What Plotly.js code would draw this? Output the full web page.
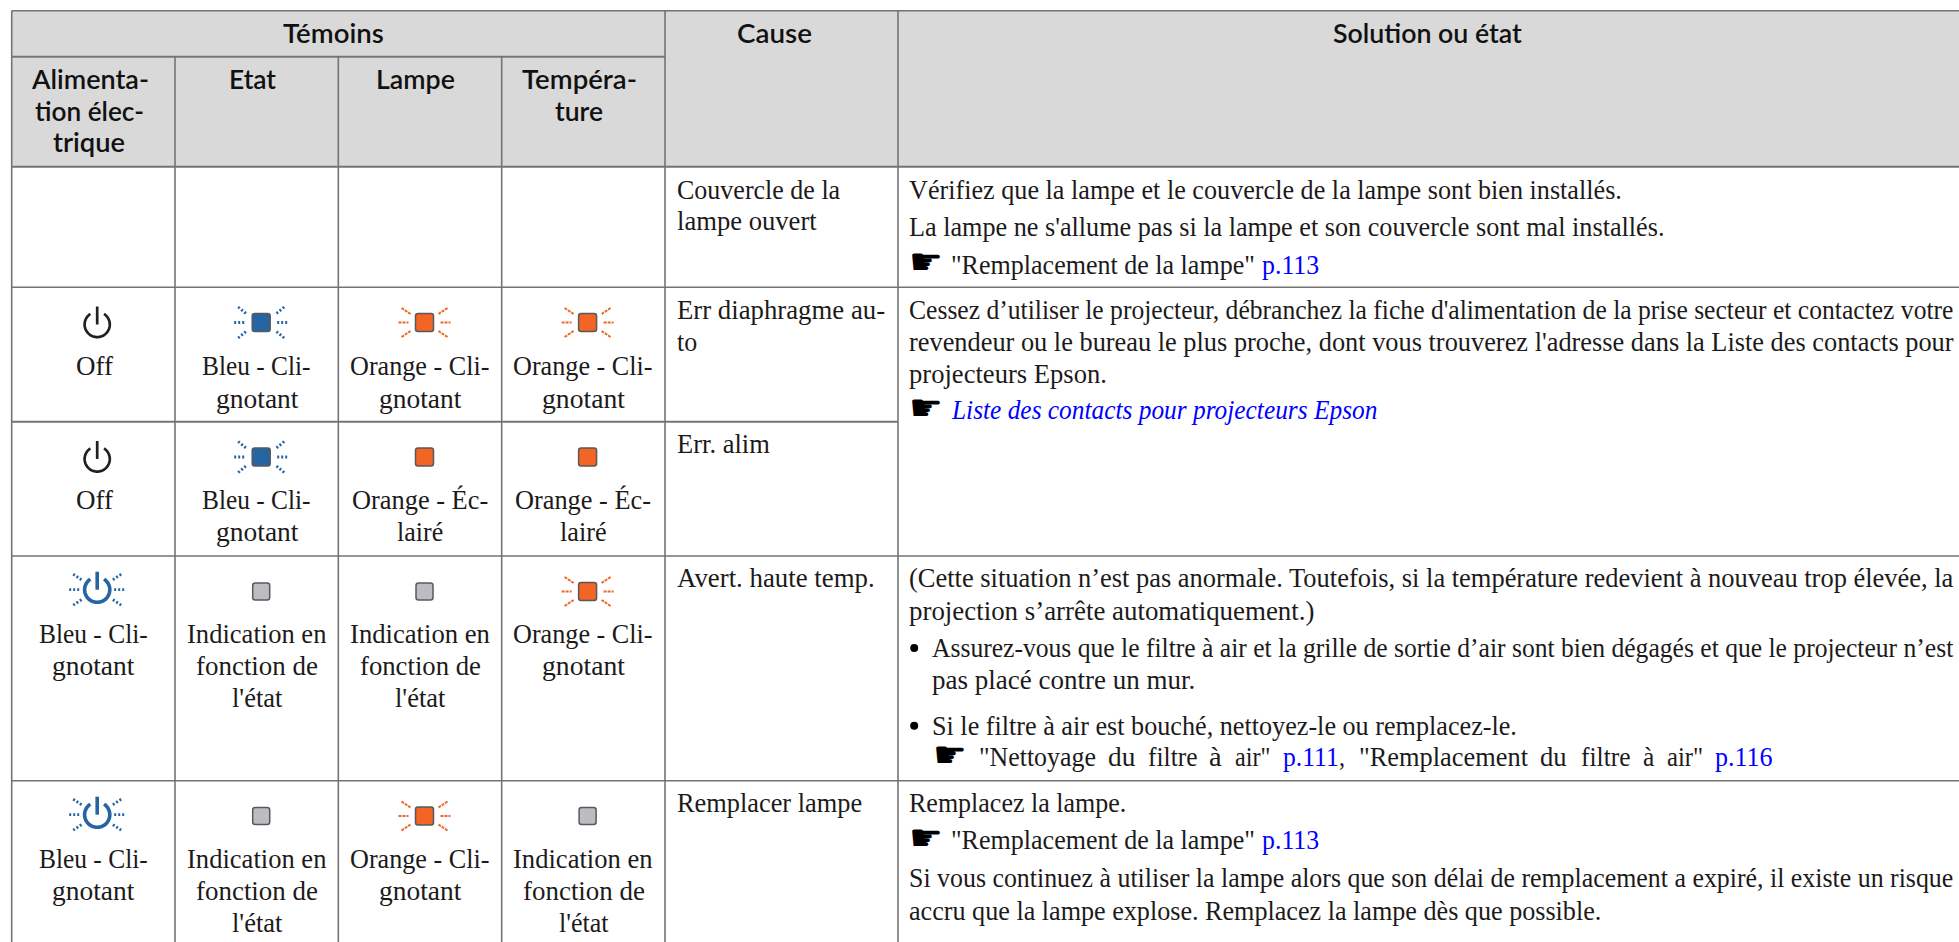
<!DOCTYPE html>
<html><head><meta charset="utf-8">
<script src="https://cdn.plot.ly/plotly-3.0.1.min.js"></script>
<style>html,body{margin:0;padding:0;background:#fff;overflow:hidden}
.annotation text{font-variant-ligatures:none}</style>
</head><body><div id="chart" style="width:1959px;height:942px"></div>
<script>
// ---- table text ----
const headTop = ['Témoins', 'Cause', 'Solution ou état'];
const headPower = ['Alimenta-', 'tion élec-', 'trique'];
const headState = ['Etat'];
const headLamp = ['Lampe'];
const headTemp = ['Tempéra-', 'ture'];
const off = ['Off'];
const blueBlink = ['Bleu - Cli-', 'gnotant'];
const orangeBlink = ['Orange - Cli-', 'gnotant'];
const orangeLit = ['Orange - Éc-', 'lairé'];
const dependsState = ['Indication en', 'fonction de', "l'état"];
const causeCover = ['Couvercle de la', 'lampe ouvert'];
const causeIris = ['Err diaphragme au-', 'to'];
const causePower = ['Err. alim'];
const causeHot = ['Avert. haute temp.'];
const causeLamp = ['Remplacer lampe'];
const solCover = ['Vérifiez que la lampe et le couvercle de la lampe sont bien installés.',
  "La lampe ne s'allume pas si la lampe et son couvercle sont mal installés."];
const refLamp = ['"Remplacement de la lampe"', 'p.113'];
const solIris = ["Cessez d’utiliser le projecteur, débranchez la fiche d'alimentation de la prise secteur et contactez votre",
  "revendeur ou le bureau le plus proche, dont vous trouverez l'adresse dans la Liste des contacts pour",
  'projecteurs Epson.'];
const refContacts = ['Liste des contacts pour projecteurs Epson'];
const solHot = ['(Cette situation n’est pas anormale. Toutefois, si la température redevient à nouveau trop élevée, la',
  'projection s’arrête automatiquement.)'];
const bullet1 = ['Assurez-vous que le filtre à air et la grille de sortie d’air sont bien dégagés et que le projecteur n’est', 'pas placé contre un mur.'];
const bullet2 = ['Si le filtre à air est bouché, nettoyez-le ou remplacez-le.'];
const refFilter1 = ['"Nettoyage', 'du', 'filtre', 'à', 'air"'];
const refFilter2 = ['"Remplacement', 'du', 'filtre', 'à', 'air"'];
const solLamp = ['Remplacez la lampe.'];
const solLamp2 = ['Si vous continuez à utiliser la lampe alors que son délai de remplacement a expiré, il existe un risque',
  'accru que la lampe explose. Remplacez la lampe dès que possible.'];
// indicator states per row: power, state, lamp, temperature
const rowIris = ['off', 'blue', 'orangeBlink', 'orangeBlink'];
const rowPower = ['off', 'blue', 'orange', 'orange'];
const rowHot = ['bluePower', 'gray', 'gray', 'orangeBlink'];
const rowLamp = ['bluePower', 'gray', 'orangeBlink', 'gray'];

// ---- palette / styles ----
const INK = '#1c1a1a', LINK = '#0000ff', BLUE = '#2565a3', ORANGE = '#f26524', GRAY = '#bcbdc0',
      EDGE = '#58595b', RULE = '#747474', HEAD = '#d9d9d9';
const SERIF = {family: 'Liberation Serif', size: 27, color: INK, k: 0.3375, dy: 1.5};
const SANS = {family: 'Lato', size: 26.5, color: '#111', weight: 600, k: 0.387, dy: 0.8};
const HAND = {family: 'DejaVu Sans', size: 36, color: '#000', k: 0.346, dy: 0};

const annotations = [], widths = [], shapes = [];
function txt(s, x0, x1, base, st, extra) {
  const font = Object.assign({}, st); delete font.k; delete font.dy;
  Object.assign(font, extra || {});
  annotations.push({xref: 'x', yref: 'y', x: x0, y: base + st.dy - st.k * st.size, text: s, showarrow: false,
    xanchor: 'left', yanchor: 'middle', align: 'left', borderpad: 0, borderwidth: 0, font});
  widths.push(x1 - x0);
}
function rule(x0, y0, x1, y1, w) {
  shapes.push({type: 'line', xref: 'x', yref: 'y', x0, y0, x1, y1, layer: 'above', line: {color: RULE, width: w || 1.6}});
}
function fillRect(x0, y0, x1, y1) {
  shapes.push({type: 'rect', xref: 'x', yref: 'y', x0, y0, x1, y1, layer: 'below', fillcolor: HEAD, line: {width: 0}});
}
function roundRect(cx, cy, w, h, fill) {
  const r = 2.5, l = cx - w / 2, R = cx + w / 2, t = cy - h / 2, b = cy + h / 2;
  const path = `M${l + r},${t} L${R - r},${t} Q${R},${t} ${R},${t + r} L${R},${b - r} Q${R},${b} ${R - r},${b} L${l + r},${b} Q${l},${b} ${l},${b - r} L${l},${t + r} Q${l},${t} ${l + r},${t} Z`;
  shapes.push({type: 'path', xref: 'x', yref: 'y', path, layer: 'above', fillcolor: fill, line: {color: EDGE, width: 1.5}});
}
function rays(cx, cy, hIn, hOut, dx0, dy0, dx1, dy1, color, width, dash) {
  const seg = (x0, y0, x1, y1) => shapes.push({type: 'line', xref: 'x', yref: 'y', x0: cx + x0, y0: cy + y0, x1: cx + x1, y1: cy + y1,
    layer: 'above', line: {color, width, dash}});
  seg(-hOut, 0, -hIn, 0); seg(hIn, 0, hOut, 0);
  [[-1, -1], [1, -1], [-1, 1], [1, 1]].forEach(([a, b]) => seg(a * dx1, b * dy1, a * dx0, b * dy0));
}
function power(cx, cy, color, w) {
  const r = 12.6, pts = [];
  for (let a = 33; a <= 327; a += 6) {
    const t = a * Math.PI / 180;
    pts.push((pts.length ? 'L' : 'M') + (cx + r * Math.sin(t)).toFixed(2) + ',' + (cy - r * Math.cos(t)).toFixed(2));
  }
  shapes.push({type: 'path', xref: 'x', yref: 'y', path: pts.join(' '), layer: 'above', line: {color, width: w}});
  shapes.push({type: 'line', xref: 'x', yref: 'y', x0: cx, x1: cx, y0: cy - 18, y1: cy, layer: 'above', line: {color, width: w}});
}
function indicator(kind, cx, cy) {
  if (kind === 'off') power(cx, cy, '#231f20', 2.7);
  else if (kind === 'bluePower') {
    power(cx, cy, BLUE, 3.6);
    rays(cx, cy, 17, 28, 15, 9.5, 24, 15.5, BLUE, 2.8, '2px,2px');
  } else if (kind === 'blue') {
    roundRect(cx, cy, 18, 18, BLUE);
    rays(cx, cy, 16, 27, 14, 8, 23, 15.5, BLUE, 2.8, '2px,2px');
  } else if (kind === 'orangeBlink') {
    roundRect(cx, cy, 18, 18, ORANGE);
    rays(cx, cy, 16, 26, 14, 8.5, 23, 14.5, ORANGE, 2, '3px,1px');
  } else if (kind === 'orange') roundRect(cx, cy, 18, 18, ORANGE);
  else if (kind === 'gray') roundRect(cx, cy, 17, 17, GRAY);
}

// ---- grid ----
const colX = [11.7, 175, 338.3, 501.7, 665, 898];
fillRect(11.7, 10.7, 1959, 166.7);
rule(11.7, 10.7, 1959, 10.7, 1.6);
rule(11.7, 56.7, 665, 56.7, 2);
rule(11.7, 166.7, 1959, 166.7, 2);
rule(11.7, 287.3, 1959, 287.3, 1.6);
rule(11.7, 421.7, 898, 421.7, 2);
rule(11.7, 556, 1959, 556, 1.6);
rule(11.7, 780.7, 1959, 780.7, 1.6);
[colX[0], colX[4], colX[5]].forEach(x => rule(x, 10.7, x, 942));
[colX[1], colX[2], colX[3]].forEach(x => rule(x, 56.7, x, 942));

// ---- header ----
txt(headTop[0], 283.2, 384, 42.7, SANS);
txt(headTop[1], 737, 812, 42.7, SANS);
txt(headTop[2], 1333, 1522, 42.7, SANS);
txt(headPower[0], 31, 148, 88, SANS); txt(headPower[1], 35, 144, 120, SANS); txt(headPower[2], 53, 125, 151.7, SANS);
txt(headState[0], 229, 276, 88, SANS);
txt(headLamp[0], 376, 455, 88, SANS);
txt(headTemp[0], 522, 637, 88, SANS); txt(headTemp[1], 555, 603, 120, SANS);

// ---- indicators ----
const iconCols = [97.2, 261.2, 424.5, 587.6];
[[rowIris, 322.5, 324.5], [rowPower, 457, 459], [rowHot, 591.5, 589.7], [rowLamp, 816, 814.7]].forEach(([row, cy, py]) => {
  row.forEach((k, i) => indicator(k, iconCols[i], i === 0 ? py : cy));
});

// ---- state labels ----
const C1 = [[202, 310.5], [215.5, 298]];     // blue, col 2
const C1a = [[38.6, 147.4], [52, 134.4]];    // blue, col 1
const O3 = [[349.5, 489], [378.6, 461]], O4 = [[513, 652.6], [542, 625]];
const L3 = [[351.7, 488], [396.8, 443]], L4 = [[515, 651], [560, 606.7]];
const D2 = [[186.5, 326], [196, 318], [231.6, 282]], D3 = [[350, 490], [360, 481], [394.6, 445]], D4 = [[513, 652.6], [523, 645], [558.5, 608]];
function block(lines, xs, bases) { lines.forEach((s, i) => txt(s, xs[i][0], xs[i][1], bases[i], SERIF)); }
block(off, [[76, 113]], [373.3]); block(blueBlink, C1, [373.3, 406.7]); block(orangeBlink, O3, [373.3, 406.7]); block(orangeBlink, O4, [373.3, 406.7]);
block(off, [[76, 113]], [507.3]); block(blueBlink, C1, [507.3, 540]); block(orangeLit, L3, [507.3, 540]); block(orangeLit, L4, [507.3, 540]);
const b4 = [641.7, 673.3, 706], b5 = [866.7, 898.3, 930.7];
block(blueBlink, C1a, b4); block(dependsState, D2, b4); block(dependsState, D3, b4); block(orangeBlink, O4, b4);
block(blueBlink, C1a, b5); block(dependsState, D2, b5); block(orangeBlink, O3, b5); block(dependsState, D4, b5);

// ---- causes ----
block(causeCover, [[676.8, 840], [676.8, 816.6]], [197.3, 229]);
block(causeIris, [[676.8, 885], [676.8, 697]], [317.7, 350]);
block(causePower, [[676.8, 769.6]], [452]);
block(causeHot, [[676.8, 874.6]], [586]);
block(causeLamp, [[676.8, 862]], [811]);

// ---- solutions ----
const R = 1954, S = 909;
function hand(x0, x1, base) { txt('☛', x0, x1, base, HAND); }
function refLampLine(base) {
  hand(S, 943, base + 2);
  txt(refLamp[0], 950.8, 1254.7, base, SERIF);
  txt(refLamp[1], 1261.8, 1319, base, SERIF, {color: LINK});
}
block(solCover, [[S, 1622.4], [S, 1664.9]], [197.3, 235]);
refLampLine(272.3);
block(solIris, [[S, R], [S, R], [S, 1107]], [317.7, 350, 381.7]);
hand(S, 943, 420);
txt(refContacts[0], 950.8, 1376.5, 418, SERIF, {color: LINK, style: 'italic'});
block(solHot, [[S, R], [S, 1314.7]], [586, 618.3]);
block(bullet1, [[932, R], [932, 1195.4]], [656, 687.7]);
block(bullet2, [[932, 1517.3]], [733.3]);
[[914.2, 648], [914.2, 725.7]].forEach(([x, y]) => shapes.push({type: 'circle', xref: 'x', yref: 'y', x0: x - 4, x1: x + 4, y0: y - 4, y1: y + 4,
  layer: 'above', fillcolor: '#000', line: {width: 0}}));
hand(932.5, 966.4, 767);
block(refFilter1, [[978.6, 1095.6], [1108.3, 1135.6], [1148.3, 1197.9], [1209.2, 1221.8], [1234.5, 1270]], [765, 765, 765, 765, 765]);
txt('p.111', 1282.9, 1338.7, 765, SERIF, {color: LINK});
txt(',', 1339, 1345, 765, SERIF);
block(refFilter2, [[1358.8, 1527.8], [1540.4, 1567], [1580.8, 1630.4], [1642.6, 1653.9], [1666.5, 1702.7]], [765, 765, 765, 765, 765]);
txt('p.116', 1715.3, 1772.9, 765, SERIF, {color: LINK});
block(solLamp, [[S, 1126.3]], [811]);
refLampLine(847.7);
block(solLamp2, [[S, R], [S, 1601.8]], [886, 918.3]);

const layout = {
  width: 1959, height: 942, autosize: false, showlegend: false,
  margin: {l: 0, r: 0, t: 0, b: 0, pad: 0},
  paper_bgcolor: '#fff', plot_bgcolor: '#fff',
  xaxis: {range: [0, 1959], visible: false, fixedrange: true},
  yaxis: {range: [942, 0], visible: false, fixedrange: true},
  shapes, annotations
};
Plotly.newPlot('chart', [{type: 'scatter', mode: 'none', x: [0, 1959], y: [0, 942], hoverinfo: 'skip'}], layout,
  {displayModeBar: false, staticPlot: true}).then(() => {
  // fit each line to the width it has in the reference with a horizontal scale about its left edge
  document.querySelectorAll('.annotation').forEach(g => {
    const i = +g.getAttribute('data-index'), t = g.querySelector('text');
    if (!t || !(widths[i] > 0)) return;
    const natural = t.getComputedTextLength();
    const x = parseFloat(t.getAttribute('x')) || 0;
    const s = widths[i] / natural;
    t.setAttribute('transform', `translate(${x},0) scale(${s},1) translate(${-x},0)`);
    const bg = g.querySelector('rect.bg');
    if (bg) bg.setAttribute('width', widths[i]);
  });
});
</script></body></html>
